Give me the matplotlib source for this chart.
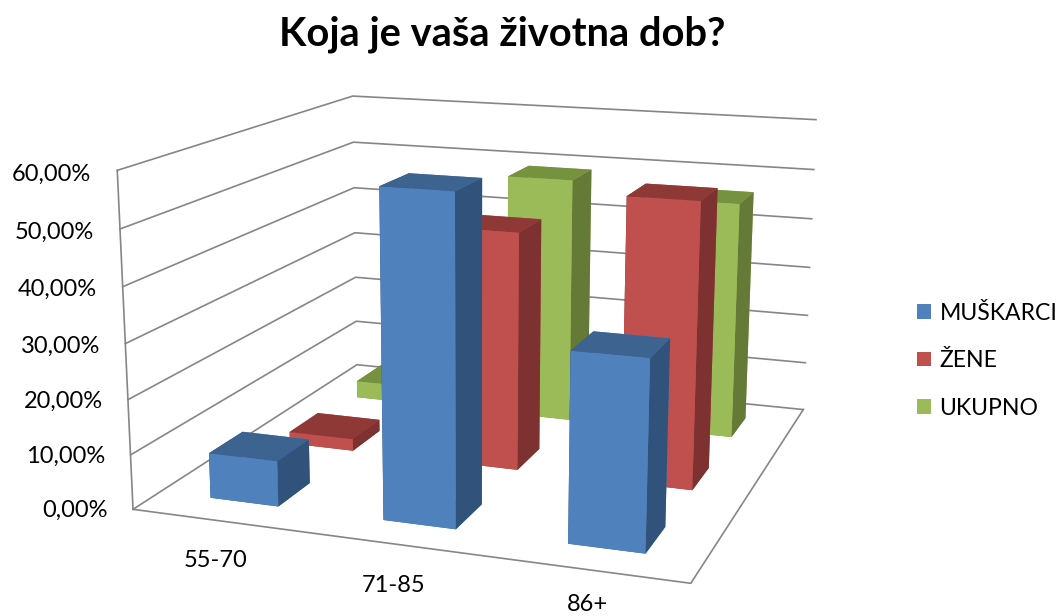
import matplotlib
matplotlib.use('Agg')
import matplotlib.pyplot as plt
from matplotlib.patches import Patch
from mpl_toolkits.mplot3d import proj3d

plt.rcParams['font.family'] = ['Lato', 'DejaVu Sans']

categories = ['55-70', '71-85', '86+']
series = ['MUŠKARCI', 'ŽENE', 'UKUPNO']
muskarci = [8.33, 58.33, 33.33]
zene = [2.3, 45, 53]
ukupno = [3.5, 49, 46.5]
z_ticks = [0, 10, 20, 30, 40, 50, 60]
z_labels = ['0,00%', '10,00%', '20,00%', '30,00%', '40,00%', '50,00%', '60,00%']

# front, top, side
blue = ['#4F81BD', '#3D6391', '#31527B']
red = ['#C0504D', '#8F3937', '#7D3130']
green = ['#9BBB59', '#76923F', '#667A38']
grid_c = '#868686'

fig = plt.figure(figsize=(10.57, 6.16), dpi=100)
ax = fig.add_subplot(111, projection='3d')
ax.set_xlim(0, 3); ax.set_ylim(0, 3); ax.set_zlim(0, 60)
ax.set_xticks([]); ax.set_yticks([]); ax.set_zticks([])
ax.set_proj_type('persp', focal_length=0.4387)
ax.view_init(elev=13.938, azim=-70.758, roll=-0.150)
ax.set_box_aspect((1.6629, 1.6397, 1))
ax.set_position([0.08343, -0.15254, 0.75099, 1.28863])
ax.set_axis_off()
ax.computed_zorder = False

# walls and floor
for z in z_ticks:
    ax.plot([0, 0, 3], [0, 3, 3], [z, z, z], color=grid_c, lw=1.2, zorder=1)
ax.plot([0, 0], [0, 0], [0, 60], color=grid_c, lw=1.2, zorder=1)
ax.plot([0, 3, 3], [0, 0, 3], [0, 0, 0], color=grid_c, lw=1.2, zorder=1)

# back row first so the front row paints over it
rows = [(ukupno, green, 2), (zene, red, 1), (muskarci, blue, 0)]
order = 2
for vals, c, j in rows:
    for i, v in enumerate(vals):
        faces = [c[1], c[1], c[0], c[0], c[2], c[2]]
        ax.bar3d(i + 0.3, j + 0.3, 0, 0.4, 0.4, v, color=faces, shade=False,
                 edgecolor='none', linewidth=0, zorder=order)
        order += 1

# labels sit at the projected 3d position
def label3d(x, y, z, s, ha):
    px, py, _ = proj3d.proj_transform(x, y, z, ax.get_proj())
    ax.text2D(px, py, s, transform=ax.transData, ha=ha, va='center', fontsize=17, color='black')

for z, lab in zip(z_ticks, z_labels):
    label3d(-0.15, 0, z - 0.9, lab, 'right')
for lab, lx, ly in zip(categories, [0.74, 1.68, 2.61], [-0.5, -0.5, -0.42]):
    label3d(lx, ly, 0, lab, 'center')

fig.text(0.4754, 0.944, 'Koja je vaša životna dob?', ha='center', va='center',
         fontsize=28.7, fontweight='bold')

handles = [Patch(facecolor=c[0], label=s) for c, s in zip([blue, red, green], series)]
fig.legend(handles=handles, loc='center left', bbox_to_anchor=(0.868, 0.4145), frameon=False,
           fontsize=16.6, handlelength=0.6, handleheight=0.6, handletextpad=0.35,
           labelspacing=1.145, borderpad=0, borderaxespad=0)

fig.savefig('out.png', dpi=100)
